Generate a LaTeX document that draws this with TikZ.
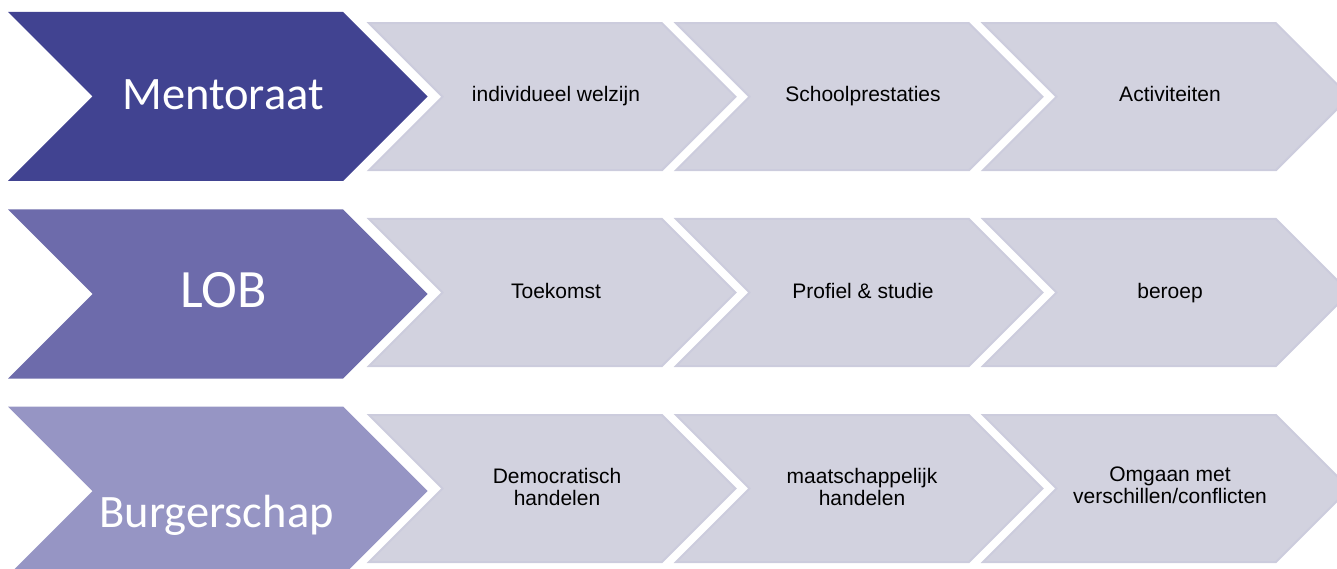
\documentclass[tikz,border=0pt]{standalone}
\usepackage{fontspec}
\setmainfont{Liberation Sans}
\newfontfamily\calib{Carlito}
\definecolor{rowone}{HTML}{414391}
\definecolor{rowtwo}{HTML}{6D6BAB}
\definecolor{rowthree}{HTML}{9695C4}
\definecolor{chevgrey}{HTML}{D2D2DF}
\definecolor{chevline}{HTML}{CCCCDD}
\newcommand\bigchevron[2]{\fill[#2] (8,#1-84.5) -- ++(335,0) -- ++(84.5,84.5) -- ++(-84.5,84.5) -- ++(-335,0) -- ++(84.5,-84.5) -- cycle;}
\newcommand\smallchevron[2]{\filldraw[smallchev] (#1,#2-73.5) -- ++(293,0) -- ++(73.5,73.5) -- ++(-73.5,73.5) -- ++(-293,0) -- ++(73.5,-73.5) -- cycle;}
\begin{document}
\begin{tikzpicture}[x=1pt,y=-1pt,
  smallchev/.style={fill=chevgrey,draw=chevline,line width=2pt,line join=miter},
  bigtext/.style={text=white,anchor=base,inner sep=0pt,font=\calib\fontsize{46.5}{50}\selectfont},
  smalltext/.style={anchor=base,inner sep=0pt,text=black,font=\fontsize{21}{21.7}\selectfont}]
\useasboundingbox (0,0) rectangle (1337,569);
\clip (0,0) rectangle (1337,569);
% row 1
\bigchevron{96.5}{rowone}
\smallchevron{369}{96.7}
\smallchevron{676}{96.7}
\smallchevron{983}{96.7}
\node[bigtext] (b1) at (223,110) {Mentoraat};
\node[smalltext] (s11) at (556,101.7) {individueel welzijn};
\node[smalltext] (s12) at (863,101.7) {Schoolprestaties};
\node[smalltext] (s13) at (1170,101.7) {Activiteiten};
% row 2
\bigchevron{294}{rowtwo}
\smallchevron{369}{292.5}
\smallchevron{676}{292.5}
\smallchevron{983}{292.5}
\node[bigtext,font=\calib\fontsize{54}{58}\selectfont] (b2) at (223.5,307) {LOB};
\node[smalltext] (s21) at (556,298) {Toekomst};
\node[smalltext] (s22) at (863,298) {Profiel \& studie};
\node[smalltext] (s23) at (1170,298) {beroep};
% row 3
\bigchevron{491}{rowthree}
\smallchevron{369}{488.5}
\smallchevron{676}{488.5}
\smallchevron{983}{488.5}
\node[bigtext] (b3) at (216.5,527) {Burgerschap};
\node[smalltext] (s31) at (557,483.3) {\begin{tabular}[t]{@{}c@{}}Democratisch\\handelen\end{tabular}};
\node[smalltext] (s32) at (862,483.3) {\begin{tabular}[t]{@{}c@{}}maatschappelijk\\handelen\end{tabular}};
\node[smalltext] (s33) at (1170,481.7) {\begin{tabular}[t]{@{}c@{}}Omgaan met\\verschillen/conflicten\end{tabular}};
\end{tikzpicture}
\end{document}
